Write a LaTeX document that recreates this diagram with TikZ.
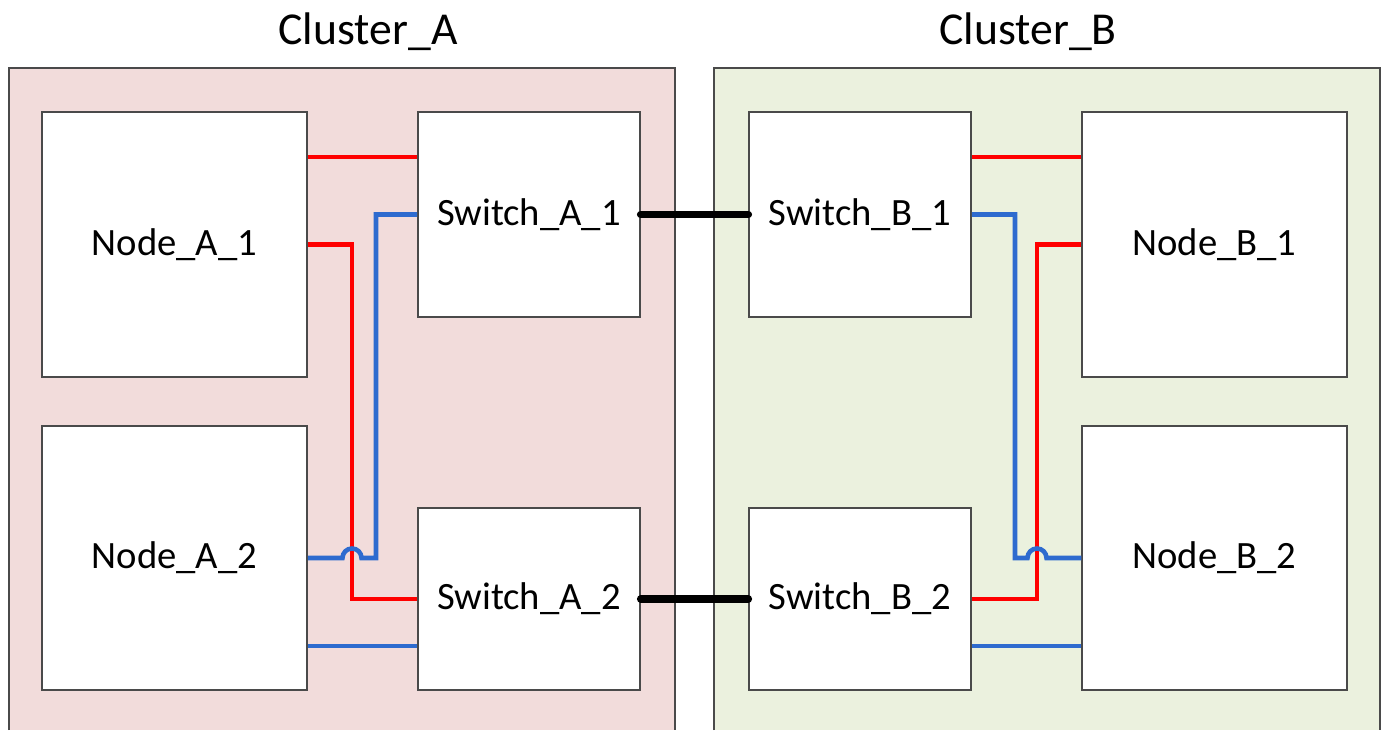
\documentclass[tikz,border=0pt]{standalone}
\usepackage{fontspec}
\setmainfont{Carlito}
\usetikzlibrary{positioning}
\definecolor{clApink}{HTML}{F2DCDB}
\definecolor{clBgreen}{HTML}{EBF1DE}
\definecolor{linkblue}{HTML}{2E6BCF}
\definecolor{edgegray}{HTML}{4A4A4A}
\begin{document}
\begin{tikzpicture}[
    x=0.02cm, y=-0.02cm,
    every node/.style={font=\fontsize{22}{26}\selectfont},
    cluster/.style={fill=#1, draw=none},
    rim/.style ={draw=edgegray, line width=0.9pt},
    title/.style={font=\fontsize{26}{30}\selectfont},
    nodebox/.style={draw=edgegray, line width=0.9pt, fill=white,
                    minimum width=5.3cm, minimum height=5.3cm, inner sep=0pt},
    swbox/.style ={draw=edgegray, line width=0.9pt, fill=white,
                   minimum width=4.44cm, inner sep=0pt},
    redlink/.style ={draw=red, line width=2.6pt},
    bluelink/.style={draw=linkblue, line width=2.6pt},
    trunk/.style   ={draw=black, line width=4.4pt, line cap=round},
]
\useasboundingbox (0,0) rectangle (1382,730);
% cluster backgrounds
\fill[cluster=clApink]  (9,68)   rectangle (675,730);
\fill[cluster=clBgreen] (714,68) rectangle (1380,730);
\draw[rim] (9,730)   |- (675,68)  -- (675,730);
\draw[rim] (714,730) |- (1380,68) -- (1380,730);
\node[title] (titA) at (368,32)  {Cluster\_A};
\node[title] (titB) at (1028,32) {Cluster\_B};
% boxes
\node[nodebox] (nodeA1) at (174.5,244.5) {Node\_A\_1};
\node[nodebox, minimum height=5.28cm] (nodeA2) at (174.5,558) {Node\_A\_2};
\node[swbox, minimum height=4.1cm]  (swA1) at (529,214.5) {Switch\_A\_1};
\node[swbox, minimum height=3.64cm] (swA2) at (529,599)   {Switch\_A\_2};
\node[swbox, minimum height=4.1cm]  (swB1) at (860,214.5) {Switch\_B\_1};
\node[swbox, minimum height=3.64cm] (swB2) at (860,599)   {Switch\_B\_2};
\node[nodebox] (nodeB1) at (1214.5,244.5) {Node\_B\_1};
\node[nodebox, minimum height=5.28cm] (nodeB2) at (1214.5,558) {Node\_B\_2};
% helper points
\coordinate (rtop) at (0,157);
\coordinate (bbot) at (0,646);
\coordinate (hopA) at (352,558);
\coordinate (hopB) at (1037,558);
% cluster A links
\draw[redlink] (nodeA1.east |- rtop) -- (swA1.west |- rtop);
\draw[redlink] (nodeA1.east) -| (hopA) -- (hopA |- swA2.west) -- (swA2.west);
\draw[bluelink] (swA1.west) -| ([xshift=0.48cm]hopA) -- ([xshift=0.19cm]hopA)
                arc[start angle=0, end angle=180, radius=0.19cm] -- (nodeA2.east);
\draw[bluelink] (nodeA2.east |- bbot) -- (swA2.west |- bbot);
% cluster B links
\draw[redlink] (swB1.east |- rtop) -- (nodeB1.west |- rtop);
\draw[redlink] (nodeB1.west) -| (hopB) -- (hopB |- swB2.east) -- (swB2.east);
\draw[bluelink] (swB1.east) -| ([xshift=-0.44cm]hopB) -- ([xshift=-0.19cm]hopB)
                arc[start angle=180, end angle=0, radius=0.19cm] -- (nodeB2.west);
\draw[bluelink] (swB2.east |- bbot) -- (nodeB2.west |- bbot);
% inter-cluster trunks
\draw[trunk] (swA1.east) -- (swB1.west);
\draw[trunk] (swA2.east) -- (swB2.west);
\end{tikzpicture}
\end{document}
